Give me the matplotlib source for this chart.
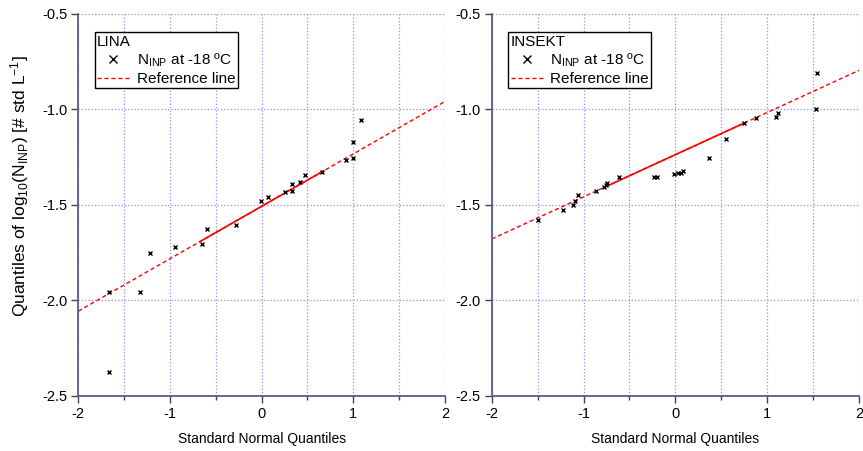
import numpy as np
import matplotlib
matplotlib.use("Agg")
import matplotlib.pyplot as plt
from matplotlib.ticker import MultipleLocator, FormatStrFormatter

plt.rcParams["font.family"] = ["Liberation Sans", "DejaVu Sans"]
plt.rcParams["mathtext.default"] = "regular"
plt.rcParams["font.size"] = 10

# LINA: standard normal quantiles vs sorted log10(N_INP)
LINA_X = [-1.669, -1.669, -1.327, -1.218, -0.945, -0.655, -0.593, -0.280,
          -0.004, 0.065, 0.257, 0.327, 0.334, 0.418, 0.472, 0.655, 0.920,
          0.999, 1.000, 1.084]
LINA_Y = [-2.373, -1.955, -1.955, -1.751, -1.720, -1.702, -1.624, -1.606,
          -1.477, -1.460, -1.434, -1.425, -1.390, -1.378, -1.343, -1.327,
          -1.264, -1.253, -1.171, -1.057]
LINA_REF_X = [-2.0, 2.0]
LINA_REF_Y = [-2.056, -0.958]
LINA_SOLID_X = [-0.673, 0.673]

# INSEKT
INSEKT_X = [-1.492, -1.220, -1.118, -1.093, -1.063, -0.864, -0.773, -0.758,
            -0.747, -0.613, -0.229, -0.196, -0.011, 0.033, 0.062, 0.087,
            0.367, 0.552, 0.747, 0.882, 1.094, 1.115, 1.529, 1.540]
INSEKT_Y = [-1.579, -1.526, -1.500, -1.481, -1.446, -1.429, -1.408, -1.396,
            -1.385, -1.356, -1.351, -1.351, -1.338, -1.335, -1.331, -1.320,
            -1.254, -1.157, -1.072, -1.044, -1.040, -1.016, -1.000, -0.807]
INSEKT_REF_X = [-2.0, 2.0]
INSEKT_REF_Y = [-1.678, -0.795]
INSEKT_SOLID_X = [-0.777, 0.744]

SPINE = "#5a5a8c"
GRID = "#9090f0"


def draw_panel(ax, x, y, ref_x, ref_y, solid_x, name):
    slope = (ref_y[1] - ref_y[0]) / (ref_x[1] - ref_x[0])
    sy = [ref_y[0] + slope * (s - ref_x[0]) for s in solid_x]

    ax.plot(ref_x, ref_y, color="red", linestyle=(0, (3, 2)), linewidth=1,
            label="Reference line", zorder=2)
    ax.plot(solid_x, sy, color="red", linewidth=1.2, zorder=2)
    ax.plot(x, y, linestyle="none", marker="x", color="black", markersize=3.5,
            markeredgewidth=1, label="N$_{INP}$ at -18 ºC", zorder=3)

    ax.set_xlim(-2, 2)
    ax.set_ylim(-2.5, -0.5)
    ax.xaxis.set_major_locator(MultipleLocator(1))
    ax.xaxis.set_minor_locator(MultipleLocator(0.5))
    ax.yaxis.set_major_locator(MultipleLocator(0.5))
    ax.yaxis.set_major_formatter(FormatStrFormatter("%.1f"))
    ax.xaxis.set_major_formatter(FormatStrFormatter("%d"))

    ax.grid(True, which="both", axis="x", linestyle=":", color=GRID, linewidth=0.9)
    ax.grid(True, which="major", axis="y", linestyle=":", color=GRID, linewidth=0.9)
    ax.set_axisbelow(True)

    for side in ("top", "right"):
        ax.spines[side].set_visible(False)
    for side in ("left", "bottom"):
        ax.spines[side].set_color(SPINE)
        ax.spines[side].set_linewidth(1.3)
    ax.tick_params(which="major", direction="out", length=5, width=1,
                   color="#444444", labelsize=10.5, pad=3)
    ax.tick_params(which="minor", direction="out", length=3, width=1,
                   color="#444444")

    ax.set_xlabel("Standard Normal Quantiles", fontsize=10, labelpad=8)

    # legend order: data markers first, then reference line
    h, l = ax.get_legend_handles_labels()
    leg = ax.legend([h[1], h[0]], [l[1], l[0]], title=name,
                    loc="upper left", bbox_to_anchor=(0.045, 0.952),
                    borderaxespad=0, alignment="left", fancybox=False,
                    framealpha=1, edgecolor="black", fontsize=11,
                    title_fontsize=11, handlelength=2.1, handletextpad=0.5,
                    borderpad=0.15, labelspacing=0.2, markerscale=1.5)
    leg.get_frame().set_linewidth(1)


fig = plt.figure(figsize=(8.63, 4.51), dpi=100)
ax1 = fig.add_axes([0.0907, 0.122, 0.4249, 0.847])
ax2 = fig.add_axes([0.5698, 0.122, 0.4256, 0.847])

draw_panel(ax1, LINA_X, LINA_Y, LINA_REF_X, LINA_REF_Y, LINA_SOLID_X, "LINA")
draw_panel(ax2, INSEKT_X, INSEKT_Y, INSEKT_REF_X, INSEKT_REF_Y, INSEKT_SOLID_X, "INSEKT")

ax1.set_ylabel("Quantiles of log$_{10}$(N$_{INP}$) [# std L$^{-1}$]", fontsize=12.5)
ax1.yaxis.set_label_coords(-0.13, 0.55)

fig.savefig("out.png", dpi=100)
